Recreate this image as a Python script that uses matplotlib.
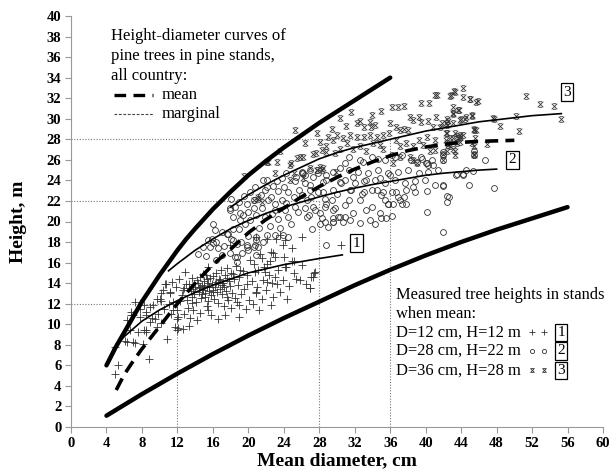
import numpy as np
import matplotlib.pyplot as plt
from matplotlib.path import Path

plt.rcParams['font.family'] = ['Liberation Serif', 'DejaVu Serif']

# Marginal height-diameter curves (upper and lower)
upper_d = [4, 5, 6, 7, 8, 9, 10, 11, 12, 13, 14, 16, 18, 20, 22, 24, 26, 28, 30, 32, 34, 36]
upper_h = [6.0, 7.7, 9.2, 10.7, 12.2, 13.5, 14.8, 16.0, 17.2, 18.3, 19.3, 21.2, 22.9, 24.5,
           25.9, 27.2, 28.4, 29.6, 30.7, 31.8, 32.9, 34.0]
lower_d = [4, 8, 12, 16, 20, 24, 28, 32, 36, 40, 44, 48, 52, 56]
lower_h = [1.1, 3.2, 5.2, 7.1, 8.9, 10.6, 12.2, 13.8, 15.3, 16.7, 18.0, 19.2, 20.3, 21.4]

# Mean curve, all country
mean_d = [5.1, 6, 7, 8, 9, 10, 11, 12, 14, 16, 18, 20, 22, 24, 26, 28, 30, 32, 34, 36, 38,
          40, 42, 44, 46, 48, 50]
mean_h = [3.6, 5.1, 6.4, 7.6, 8.7, 9.8, 10.9, 12.0, 14.0, 15.8, 17.3, 18.9, 20.2, 21.3,
          22.4, 23.4, 24.3, 25.1, 25.8, 26.4, 26.9, 27.25, 27.5, 27.7, 27.8, 27.85, 27.9]

# Stand curves 1-3
c1_d = [4.8, 6, 8, 10, 12, 14, 16, 18, 20, 22, 24, 26, 28, 30.6]
c1_h = [7.6, 8.8, 10.3, 11.4, 12.3, 13.1, 13.8, 14.4, 15.0, 15.4, 15.8, 16.1, 16.4, 16.75]
c2_d = [11, 12, 14, 16, 18, 20, 22, 24, 26, 28, 30, 32, 34, 36, 38, 40, 42, 44, 46, 48]
c2_h = [15.2, 15.9, 17.2, 18.3, 19.3, 20.1, 20.8, 21.4, 21.9, 22.4, 22.85, 23.25, 23.6,
        23.9, 24.2, 24.5, 24.7, 24.85, 25.0, 25.1]
c3_d = [18, 20, 22, 24, 26, 28, 30, 32, 34, 36, 38, 40, 42, 44, 46, 48, 50, 52, 55.3]
c3_h = [21.4, 22.6, 23.6, 24.5, 25.3, 26.1, 26.7, 27.2, 27.6, 28.0, 28.4, 28.8, 29.1, 29.4,
        29.7, 29.9, 30.1, 30.3, 30.5]
curve_labels = ['1', '2', '3']

# Stand means used for the reference lines
ref_d = [12, 28, 36]
ref_h = [12, 22, 28]

# Measured trees, stand 1 (D=12, H=12)
trees1 = [
    (5.0, 5.2), (5.3, 6.0), (5.0, 7.8), (6.3, 8.25), (7.2, 8.2), (8.1, 8.1), (8.8, 6.6),
    (10.8, 8.6), (12.1, 9.6), (12.6, 9.5), (13.3, 9.8), (6.3, 10.4), (6.8, 10.9), (7.2, 12.2),
    (7.8, 11.5), (8.5, 11.2), (9.1, 10.6), (8.2, 9.4), (8.5, 9.25), (9.7, 9.7), (9.3, 11.85),
    (10.0, 12.5), (10.4, 13.3), (10.7, 13.95), (11.2, 13.0), (11.5, 12.2), (11.5, 11.4),
    (11.9, 10.55), (12.3, 12.3), (12.6, 13.3), (12.9, 15.1), (13.6, 12.7), (13.8, 11.35),
    (13.0, 13.95), (14.2, 14.3), (14.5, 13.6), (14.9, 14.9), (15.5, 15.6), (15.1, 12.7),
    (15.5, 11.35), (16.0, 13.3), (16.6, 10.55), (16.8, 14.3), (17.6, 12.7), (18.3, 14.9),
    (18.7, 12.2), (19.1, 15.3), (19.8, 13.95), (20.6, 15.9), (20.9, 13.15), (21.7, 14.3),
    (22.1, 15.9), (22.8, 12.7), (22.8, 16.9), (23.9, 14.3), (24.3, 15.6), (24.9, 17.4),
    (25.1, 16.2), (25.4, 14.45), (25.8, 14.3), (26.0, 18.5), (23.6, 18.7), (23.9, 17.7),
    (23.1, 18.3), (24.1, 18.2), (22.6, 17.0), (23.0, 16.55), (21.5, 16.4), (24.9, 16.2),
    (24.1, 15.6), (21.1, 15.3), (21.9, 15.1), (22.3, 14.8), (22.1, 14.1), (23.0, 14.6),
    (23.2, 13.95), (27.5, 15.1), (27.3, 14.6), (27.0, 13.5), (20.9, 13.0), (30.5, 17.7),
    (27.4, 15.0), (17.9, 17.7), (20.9, 18.5), (22.1, 18.3), (10.6, 13.96), (11.4, 14.1),
    (11.2, 13.15), (10.2, 13.0), (9.7, 12.5), (8.2, 11.85), (8.9, 11.7), (6.8, 11.2),
    (7.0, 10.9), (7.8, 10.7), (8.5, 10.9), (9.5, 10.55), (8.9, 10.2), (10.2, 10.1),
    (6.7, 9.4), (7.6, 9.25), (8.5, 9.4), (6.1, 8.4), (7.0, 8.3), (11.7, 9.7), (11.9, 9.4),
    (12.1, 10.7), (12.5, 12.8), (12.8, 13.5), (13.1, 12.4), (13.3, 13.9), (13.5, 13.2),
    (13.7, 14.5), (13.9, 12.9), (14.0, 13.6), (14.1, 12.2), (14.3, 14.0), (14.4, 13.1),
    (14.6, 14.6), (14.7, 12.6), (14.8, 13.8), (14.9, 13.3), (15.0, 14.2), (15.1, 13.0),
    (15.2, 14.8), (15.3, 13.6), (15.4, 12.3), (15.5, 14.0), (15.6, 13.2), (15.7, 14.5),
    (15.8, 12.8), (15.9, 13.9), (16.0, 14.7), (16.1, 12.5), (16.2, 13.6), (16.3, 15.0),
    (16.4, 14.1), (16.5, 13.1), (16.6, 12.1), (16.7, 14.4), (16.8, 13.4), (16.9, 15.3),
    (17.0, 12.9), (17.1, 14.0), (17.2, 13.6), (17.3, 11.8), (17.4, 14.8), (17.5, 13.2),
    (17.6, 15.5), (17.7, 12.4), (17.8, 14.2), (17.9, 13.7), (18.0, 11.6), (18.1, 15.0),
    (18.2, 13.0), (18.4, 14.4), (18.5, 12.6), (18.6, 15.7), (18.8, 13.8), (18.9, 11.9),
    (19.0, 14.6), (19.2, 12.9), (19.4, 15.2), (19.5, 13.4), (19.7, 11.5), (19.9, 14.8),
    (20.1, 12.4), (20.2, 16.3), (20.4, 14.2), (20.5, 12.0), (20.7, 15.1), (21.0, 13.6),
    (21.3, 16.8), (21.5, 12.5), (21.8, 15.6), (22.0, 13.3), (22.4, 16.2), (22.7, 14.0),
    (23.3, 15.3), (23.6, 13.1), (24.0, 16.5), (24.6, 13.7), (25.2, 15.0), (26.0, 15.8),
    (26.5, 13.9), (13.2, 11.6), (14.5, 11.1), (15.3, 11.8), (12.2, 14.4), (11.8, 13.6),
    (11.0, 12.0), (11.3, 11.0), (10.5, 11.5), (9.8, 11.0), (10.2, 12.3), (12.0, 11.4),
    (12.7, 11.0), (13.4, 10.6), (14.2, 10.4), (15.8, 10.9), (17.4, 10.9), (19.0, 10.7),
    (21.2, 11.4), (22.5, 11.9), (24.4, 12.5), (26.9, 13.5), (27.1, 14.6),
    (14.4, 13.5), (15.0, 13.7), (15.6, 13.6), (16.2, 13.9), (14.8, 12.9), (16.0, 13.1),
    (13.8, 13.4), (17.0, 13.8), (15.3, 14.4), (16.6, 14.0), (13.6, 12.1), (17.6, 14.5),
]

# Measured trees, stand 2 (D=28, H=22)
trees2 = [
    (46.7, 26.0), (47.7, 23.3), (44.9, 23.6), (43.5, 24.6), (44.2, 24.6), (42.4, 22.5),
    (42.6, 22.4), (42.4, 21.9), (42.0, 19.0), (40.1, 20.9), (40.2, 22.95), (41.9, 23.6),
    (41.0, 23.6), (40.3, 25.5), (40.8, 25.5), (40.0, 25.65), (39.6, 26.1), (38.8, 22.9),
    (37.8, 21.75), (37.1, 22.1), (37.5, 22.4), (37.8, 23.05), (38.6, 23.4), (36.2, 20.55),
    (35.5, 20.3), (35.0, 20.3), (35.7, 21.75), (35.2, 22.9), (36.7, 22.9), (34.3, 19.8),
    (33.7, 20.1), (32.6, 19.9), (31.5, 20.1), (30.9, 20.4), (29.5, 19.95), (29.0, 19.5),
    (42.0, 26.8), (41.9, 26.45), (41.9, 25.96), (45.4, 26.9), (45.4, 26.45), (43.4, 24.5),
    (44.2, 24.5), (44.6, 25.05), (45.3, 24.9), (41.9, 23.5), (28.8, 17.76), (28.7, 19.96),
    (29.6, 19.96), (16.0, 17.9), (17.6, 18.8), (18.3, 18.2), (15.5, 18.2), (14.9, 17.5),
    (17.0, 16.7), (17.9, 16.9), (18.7, 16.55), (19.8, 17.7), (20.6, 17.5), (21.1, 17.5),
    (20.9, 16.7), (22.1, 18.7), (23.0, 18.7), (23.9, 18.7), (24.5, 18.5), (20.0, 18.6),
    (20.9, 18.5), (16.0, 19.8), (17.9, 21.1), (18.3, 20.4), (19.1, 20.8), (19.8, 21.75),
    (20.6, 22.1), (21.7, 24.0), (22.1, 23.4), (23.2, 23.9), (24.3, 24.7), (25.4, 24.3),
    (26.0, 24.8), (26.4, 23.7), (16.2, 19.15), (17.0, 19.0), (17.7, 18.8), (15.9, 18.3),
    (16.4, 18.0), (15.7, 17.5), (16.6, 17.4), (18.1, 18.3), (18.7, 17.85), (19.2, 18.0),
    (19.8, 17.5), (20.0, 17.2), (20.7, 17.7), (20.9, 18.2), (18.5, 16.55), (18.7, 16.1),
    (22.1, 24.0), (22.8, 23.5), (23.8, 24.2), (25.3, 23.9), (26.0, 24.7), (26.4, 24.5),
    (27.0, 25.0), (27.9, 24.7), (28.8, 24.5), (29.6, 24.8), (30.3, 25.2), (30.9, 25.65),
    (31.3, 26.3), (28.4, 23.85), (29.6, 23.05), (30.5, 23.7), (24.5, 22.9), (25.1, 22.4),
    (26.0, 22.55), (27.1, 22.4), (27.9, 22.9), (28.6, 22.2), (22.2, 22.1), (23.0, 21.75),
    (23.8, 22.1), (23.0, 21.1), (24.1, 21.1), (25.3, 21.4), (26.4, 21.3), (27.5, 21.1),
    (28.6, 21.4), (29.8, 21.3), (30.9, 21.6), (21.9, 20.45), (24.5, 20.45), (26.8, 20.6),
    (28.3, 20.3), (30.1, 20.45), (32.6, 26.0), (32.9, 25.8), (33.9, 26.3), (34.6, 26.1),
    (35.4, 26.0), (36.2, 26.45), (36.5, 26.3), (37.3, 26.45), (38.4, 26.0), (39.0, 25.8),
    (39.5, 26.3), (40.1, 25.65), (40.7, 26.0), (31.3, 25.0), (32.4, 24.8), (33.5, 24.7),
    (34.6, 25.0), (35.8, 24.7), (36.9, 24.8), (38.0, 25.0), (39.2, 24.7), (40.3, 24.8),
    (41.4, 25.0), (30.9, 24.0), (32.0, 23.7), (33.1, 23.9), (34.3, 24.0), (35.4, 23.7),
    (36.5, 24.0), (37.7, 23.7), (38.8, 23.9), (39.9, 24.0), (31.6, 23.05), (32.8, 22.7),
    (33.9, 23.05), (35.0, 22.55), (36.2, 22.9), (36.9, 22.4), (35.4, 22.1), (37.3, 21.75),
    (35.8, 21.75), (26.6, 22.1), (27.3, 21.4), (28.1, 20.8), (28.8, 21.75), (29.6, 21.1),
    (30.3, 20.45), (26.6, 20.45), (28.1, 19.8), (29.6, 20.3), (30.7, 19.95), (31.8, 20.8),
    (33.3, 21.1), (32.6, 22.1), (33.9, 21.4), (34.8, 20.8), (36.3, 21.75), (26.2, 24.7),
    (27.3, 24.3), (28.8, 24.0), (30.3, 23.85), (31.8, 24.3), (33.3, 24.0), (34.8, 24.2),
    (36.0, 24.5), (26.9, 23.05), (28.4, 22.9), (30.0, 22.7), (31.5, 23.05), (33.0, 22.9),
    (34.5, 23.05), (31.3, 22.1), (29.4, 22.1), (17.9, 21.3), (18.5, 21.4), (19.1, 20.1),
    (19.4, 20.6), (20.0, 20.9), (20.6, 21.3), (20.9, 20.6), (20.2, 20.1), (19.6, 19.8),
    (18.3, 19.3), (18.9, 19.3), (20.2, 22.9), (20.8, 23.4), (21.4, 22.6), (21.9, 23.1),
    (22.5, 22.4), (23.4, 23.0), (24.0, 23.4), (19.5, 22.5), (19.0, 21.9), (18.1, 22.2),
    (21.2, 19.4), (22.4, 19.6), (23.3, 20.2), (24.8, 19.8), (25.6, 20.9), (27.2, 19.3),
    (21.5, 21.3), (22.7, 20.7), (24.2, 21.8), (25.7, 23.1), (26.9, 23.6), (23.6, 19.4),
    (14.3, 16.8), (15.2, 16.6), (16.3, 16.3), (17.3, 17.6), (19.3, 16.9), (21.6, 18.0),
]

# Measured trees, stand 3 (D=36, H=28)
trees3 = [
    (44.2, 33.0), (43.2, 32.7), (42.7, 32.2), (41.0, 32.3), (41.3, 32.3), (44.2, 32.1),
    (45.0, 31.9), (45.7, 31.6), (45.9, 31.7), (51.3, 32.2), (52.9, 31.4), (54.5, 31.2),
    (55.3, 30.0), (50.2, 30.3), (48.4, 29.3), (50.5, 28.8), (46.9, 27.5), (47.6, 30.1),
    (36.2, 31.1), (36.9, 31.1), (37.5, 31.2), (39.5, 31.5), (40.4, 31.5), (43.1, 31.1),
    (43.8, 30.9), (30.3, 30.1), (32.2, 29.55), (32.6, 29.8), (34.0, 30.4), (33.7, 29.7),
    (34.3, 29.4), (33.1, 29.15), (33.8, 29.15), (36.0, 29.55), (36.7, 29.2), (37.1, 28.9),
    (37.5, 29.05), (38.2, 30.2), (38.6, 29.9), (39.2, 30.2), (39.5, 29.7), (40.3, 29.8),
    (41.2, 30.2), (42.4, 30.0), (43.1, 30.5), (44.0, 30.0), (44.6, 30.2), (45.2, 30.25),
    (40.8, 29.2), (41.6, 29.2), (42.4, 29.4), (43.1, 29.55), (45.4, 29.05), (45.7, 28.9),
    (43.5, 28.3), (43.9, 28.2), (44.2, 28.4), (42.4, 28.6), (42.7, 28.1), (45.2, 27.65),
    (45.4, 27.3), (45.4, 26.6), (43.3, 26.9), (43.5, 27.6), (42.4, 27.6), (42.7, 27.3),
    (42.0, 26.6), (42.0, 26.0), (41.0, 27.0), (27.7, 28.6), (29.0, 28.2), (30.0, 28.4),
    (30.7, 28.1), (31.5, 28.4), (32.2, 28.2), (33.0, 28.2), (33.7, 28.4), (34.5, 28.2),
    (35.2, 28.4), (26.4, 27.6), (28.1, 27.75), (28.8, 27.3), (29.6, 27.9), (30.3, 27.1),
    (31.1, 27.6), (31.8, 27.1), (32.6, 27.3), (33.3, 26.9), (34.1, 27.6), (34.8, 27.4),
    (35.2, 27.1), (36.7, 27.9), (37.1, 27.3), (37.8, 27.6), (38.6, 27.3), (39.3, 27.9),
    (39.7, 27.4), (40.5, 26.9), (41.0, 27.9), (40.1, 28.2), (38.6, 26.0), (39.0, 25.65),
    (38.2, 26.3), (37.1, 26.3), (36.3, 25.65), (26.2, 26.3), (27.3, 26.6), (28.1, 25.3),
    (26.9, 25.2), (27.7, 25.0), (28.4, 25.2), (23.2, 25.8), (24.7, 25.5), (25.8, 26.3),
    (22.1, 25.8), (23.0, 24.7), (24.7, 24.0), (25.1, 24.7), (21.1, 22.4), (20.6, 22.1),
    (21.5, 21.9), (27.6, 26.7), (25.5, 26.2), (24.8, 25.65), (22.2, 25.8), (28.3, 27.0),
    (28.8, 26.8), (29.8, 26.7), (27.7, 25.05), (28.3, 25.05), (29.9, 24.8), (26.2, 24.2),
    (21.1, 22.2), (42.3, 28.6), (43.3, 28.6), (43.9, 28.4), (42.3, 27.9), (43.1, 28.1),
    (43.7, 28.1), (43.9, 27.75), (42.5, 27.4), (43.1, 27.1), (42.4, 26.9), (43.3, 26.45),
    (45.4, 26.45), (45.4, 28.9), (45.6, 28.1), (43.3, 32.6), (42.9, 32.3), (45.0, 31.9),
    (43.7, 30.9), (43.1, 30.6), (43.9, 29.9), (44.4, 30.0), (45.2, 30.35), (42.5, 29.8),
    (41.8, 29.55), (42.3, 29.55), (47.7, 30.0), (19.5, 24.4), (25.3, 28.9), (23.6, 26.9),
    (31.6, 30.7), (35.0, 30.8), (38.0, 28.9), (35.9, 28.6), (31.0, 29.3), (29.4, 29.0),
]

fig = plt.figure(figsize=(6.09, 4.72), dpi=100)
ax = fig.add_axes([71 / 609, 45 / 472, 532 / 609, 411 / 472])

# Reference lines at stand means
for d, h in zip(ref_d, ref_h):
    ax.plot([0, d], [h, h], color='#777777', lw=0.8, ls=(0, (1, 1.5)), zorder=1)
    ax.plot([d, d], [0, h], color='#777777', lw=0.8, ls=(0, (1, 1.5)), zorder=1)

hourglass = Path([(-1, 1), (1, -1), (1, 1), (-1, -1), (-0.6, 1), (0.6, 1), (-0.6, -1), (0.6, -1)],
                 [Path.MOVETO, Path.LINETO] * 4)

t1 = np.array(trees1)
t2 = np.array(trees2)
t3 = np.array(trees3)
ax.plot(t1[:, 0], t1[:, 1], '+', color='#333333', ms=5.5, mew=0.6, ls='none', zorder=2)
ax.plot(t2[:, 0], t2[:, 1], 'o', mfc='none', mec='#333333', ms=4.2, mew=0.6, ls='none', zorder=2)
ax.plot(t3[:, 0], t3[:, 1], marker=hourglass, color='#333333', ms=4, mew=0.6, ls='none', zorder=2)

# Curves
ax.plot(upper_d, upper_h, color='black', lw=3.2, solid_capstyle='round', zorder=4)
ax.plot(lower_d, lower_h, color='black', lw=3.2, solid_capstyle='round', zorder=4)
ax.plot(mean_d, mean_h, color='black', lw=2.6, dashes=(3.6, 2.0), zorder=4)
for d, h in [(c1_d, c1_h), (c2_d, c2_h), (c3_d, c3_h)]:
    ax.plot(d, h, color='black', lw=1.2, zorder=4)

box = dict(boxstyle='square,pad=0.15', fc='white', ec='black', lw=0.9)
for (x, y), s in zip([(32.2, 17.9), (49.8, 26.0), (55.9, 32.6)], curve_labels):
    ax.text(x, y, s, fontsize=11, ha='center', va='center', bbox=box, zorder=5)

# Legend for curves, top left
ax.text(4.5, 38.1, 'Height-diameter curves of', fontsize=12, va='center')
ax.text(4.5, 36.1, 'pine trees in pine stands,', fontsize=12, va='center')
ax.text(4.5, 34.15, 'all country:', fontsize=12, va='center')
ax.plot([4.85, 9.25], [32.3, 32.3], color='black', lw=2.4, dashes=(3.5, 2.2))
ax.text(10.2, 32.3, 'mean', fontsize=12, va='center')
ax.plot([4.85, 9.25], [30.5, 30.5], color='#444444', lw=0.8, dashes=(2.5, 1.5))
ax.text(10.2, 30.5, 'marginal', fontsize=12, va='center')

# Legend for measured trees, bottom right
ax.text(36.6, 12.8, 'Measured tree heights in stands', fontsize=11.9, va='center')
ax.text(36.6, 11.0, 'when mean:', fontsize=11.9, va='center')
rows = ['D=12 cm, H=12 m', 'D=28 cm, H=22 m', 'D=36 cm, H=28 m']
row_y = [9.2, 7.4, 5.5]
row_marker = [dict(marker='+', color='#333333', ms=4, mew=0.6),
              dict(marker='o', mfc='none', mec='#333333', ms=3, mew=0.6),
              dict(marker=hourglass, color='#333333', ms=3, mew=0.6)]
for s, y, mk, lab in zip(rows, row_y, row_marker, curve_labels):
    ax.text(36.6, y, s, fontsize=11.9, va='center')
    ax.plot([52.0, 53.4], [y, y], ls='none', **mk)
    ax.text(55.3, y, lab, fontsize=11, ha='center', va='center', bbox=box)

ax.set_xlim(0, 60)
ax.set_ylim(0, 40)
ax.set_xticks(np.arange(0, 61, 4))
ax.set_yticks(np.arange(0, 41, 2))
for side in ['top', 'right']:
    ax.spines[side].set_visible(False)
for side in ['left', 'bottom']:
    ax.spines[side].set_color('#999999')
    ax.spines[side].set_linewidth(0.8)
ax.tick_params(direction='out', length=4, width=0.8, color='#999999', labelsize=10.5, pad=3)
for lab in ax.get_xticklabels() + ax.get_yticklabels():
    lab.set_fontweight('bold')

ax.set_xlabel('Mean diameter, cm', fontsize=14, fontweight='bold', labelpad=2)
ax.set_ylabel('Height, m', fontsize=14, fontweight='bold', labelpad=14)

fig.savefig('out.png', dpi=100)
